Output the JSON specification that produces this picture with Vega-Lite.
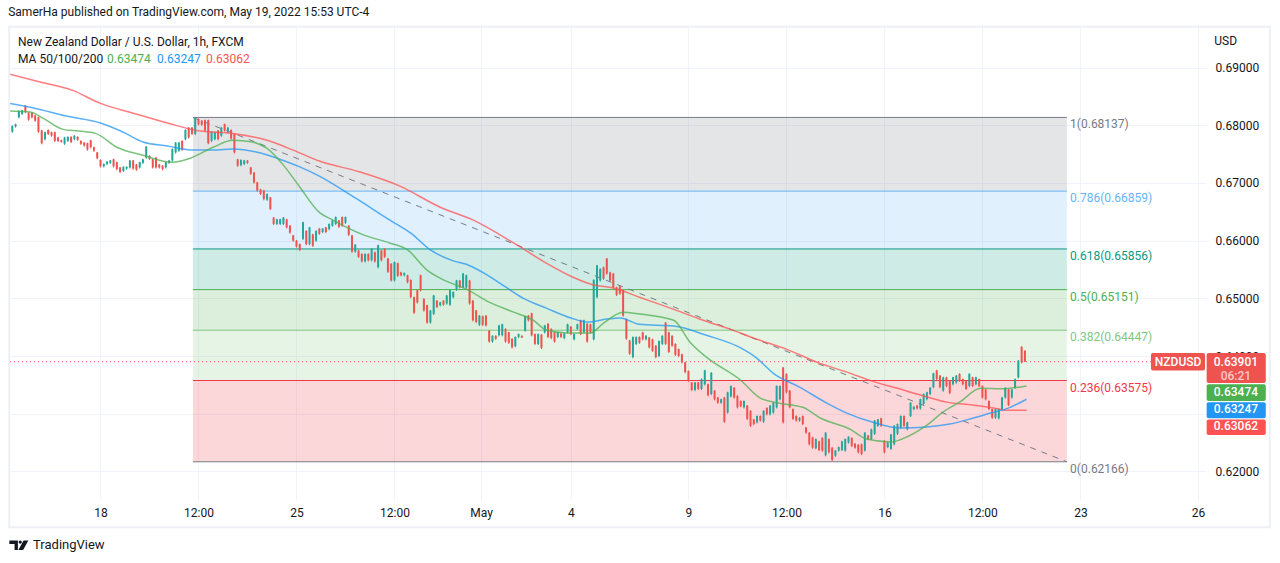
{
"$schema":"https://vega.github.io/schema/vega-lite/v6.json",
"description":"NZDUSD 1h candles with MA 50/100/200, a Fibonacci retracement and a dashed trend line.",
"width":1196,"height":473,
"autosize":{"type":"none"},
"padding":{"left":10,"top":27,"right":74,"bottom":63},
"background":"#ffffff",
"config":{"view":{"stroke":null},"font":"Roboto","text":{"font":"Roboto"},"scale":{"continuousPadding":0}},
"title":{"text":"SamerHa published on TradingView.com, May 19, 2022 15:53 UTC-4","anchor":"start","fontSize":12,"fontWeight":"normal","color":"#131722","offset":7,"font":"Roboto"},
"datasets":{
"fib":[
{"ratio":"1","v":0.68137,"next":0.66859,"label":"1(0.68137)"},
{"ratio":"0.786","v":0.66859,"next":0.65856,"label":"0.786(0.66859)"},
{"ratio":"0.618","v":0.65856,"next":0.65151,"label":"0.618(0.65856)"},
{"ratio":"0.5","v":0.65151,"next":0.64447,"label":"0.5(0.65151)"},
{"ratio":"0.382","v":0.64447,"next":0.63575,"label":"0.382(0.64447)"},
{"ratio":"0.236","v":0.63575,"next":0.62166,"label":"0.236(0.63575)"},
{"ratio":"0","v":0.62166,"next":0.62166,"label":"0(0.62166)"}],
"trend":[{"t":56.6,"v":0.68137},{"t":591.7,"v":0.62166}],
"last":[{"v":0.63901}],
"pane":[{"name":"pane"}],
"logo":[{"name":"TradingView"}],
"ma":[
{"ma":"200","t":-56,"v":0.6889},{"ma":"200","t":-37,"v":0.6875},{"ma":"200","t":-17.5,"v":0.6861},{"ma":"200","t":0,"v":0.6838},{"ma":"200","t":20,"v":0.6821},{"ma":"200","t":41,"v":0.6804},{"ma":"200","t":61,"v":0.679},{"ma":"200","t":81,"v":0.6786},{"ma":"200","t":102,"v":0.6774},{"ma":"200","t":118,"v":0.6757},{"ma":"200","t":134,"v":0.6738},{"ma":"200","t":159,"v":0.6719},{"ma":"200","t":183,"v":0.6695},{"ma":"200","t":208,"v":0.6658},{"ma":"200","t":228,"v":0.6636},{"ma":"200","t":253,"v":0.6596},{"ma":"200","t":273,"v":0.6561},{"ma":"200","t":289,"v":0.6537},{"ma":"200","t":302,"v":0.6523},{"ma":"200","t":314,"v":0.6518},{"ma":"200","t":330,"v":0.6502},{"ma":"200","t":349,"v":0.6483},{"ma":"200","t":369,"v":0.6462},{"ma":"200","t":385,"v":0.6447},{"ma":"200","t":402,"v":0.6429},{"ma":"200","t":420,"v":0.6412},{"ma":"200","t":439,"v":0.6389},{"ma":"200","t":457,"v":0.6372},{"ma":"200","t":473,"v":0.6356},{"ma":"200","t":494,"v":0.6339},{"ma":"200","t":506,"v":0.6329},{"ma":"200","t":518,"v":0.632},{"ma":"200","t":534,"v":0.6315},{"ma":"200","t":547,"v":0.631},{"ma":"200","t":555,"v":0.6306},{"ma":"200","t":567,"v":0.6306},
{"ma":"100","t":-56,"v":0.6838},{"ma":"100","t":-41,"v":0.683},{"ma":"100","t":-21,"v":0.6816},{"ma":"100","t":0,"v":0.6804},{"ma":"100","t":14,"v":0.6788},{"ma":"100","t":26,"v":0.6771},{"ma":"100","t":41,"v":0.6764},{"ma":"100","t":57,"v":0.6757},{"ma":"100","t":69,"v":0.6757},{"ma":"100","t":81,"v":0.6759},{"ma":"100","t":98,"v":0.6752},{"ma":"100","t":108,"v":0.6743},{"ma":"100","t":122,"v":0.6728},{"ma":"100","t":134,"v":0.6712},{"ma":"100","t":156,"v":0.6674},{"ma":"100","t":177,"v":0.6636},{"ma":"100","t":190,"v":0.6613},{"ma":"100","t":202,"v":0.6584},{"ma":"100","t":216,"v":0.6565},{"ma":"100","t":224,"v":0.6559},{"ma":"100","t":234,"v":0.6545},{"ma":"100","t":249,"v":0.6518},{"ma":"100","t":259,"v":0.65},{"ma":"100","t":273,"v":0.6483},{"ma":"100","t":288,"v":0.6466},{"ma":"100","t":298,"v":0.6459},{"ma":"100","t":310,"v":0.6464},{"ma":"100","t":318,"v":0.6466},{"ma":"100","t":330,"v":0.6455},{"ma":"100","t":351,"v":0.6452},{"ma":"100","t":371,"v":0.6436},{"ma":"100","t":392,"v":0.6414},{"ma":"100","t":402,"v":0.6396},{"ma":"100","t":412,"v":0.637},{"ma":"100","t":428,"v":0.6346},{"ma":"100","t":445,"v":0.6318},{"ma":"100","t":457,"v":0.6301},{"ma":"100","t":473,"v":0.6285},{"ma":"100","t":490,"v":0.6275},{"ma":"100","t":506,"v":0.6277},{"ma":"100","t":520,"v":0.6282},{"ma":"100","t":534,"v":0.6292},{"ma":"100","t":545,"v":0.6301},{"ma":"100","t":557,"v":0.6311},{"ma":"100","t":567,"v":0.6325},
{"ma":"50","t":-56,"v":0.6825},{"ma":"50","t":-43,"v":0.6823},{"ma":"50","t":-35,"v":0.6812},{"ma":"50","t":-23,"v":0.6793},{"ma":"50","t":-13,"v":0.679},{"ma":"50","t":-3,"v":0.6786},{"ma":"50","t":10,"v":0.6762},{"ma":"50","t":26,"v":0.6748},{"ma":"50","t":44,"v":0.6736},{"ma":"50","t":55,"v":0.6743},{"ma":"50","t":69,"v":0.6762},{"ma":"50","t":81,"v":0.6774},{"ma":"50","t":93,"v":0.6771},{"ma":"50","t":102,"v":0.676},{"ma":"50","t":112,"v":0.6731},{"ma":"50","t":122,"v":0.6693},{"ma":"50","t":134,"v":0.6649},{"ma":"50","t":142,"v":0.6636},{"ma":"50","t":161,"v":0.661},{"ma":"50","t":177,"v":0.6596},{"ma":"50","t":188,"v":0.6584},{"ma":"50","t":200,"v":0.6549},{"ma":"50","t":210,"v":0.6532},{"ma":"50","t":224,"v":0.6516},{"ma":"50","t":239,"v":0.6492},{"ma":"50","t":253,"v":0.6476},{"ma":"50","t":265,"v":0.6462},{"ma":"50","t":273,"v":0.6445},{"ma":"50","t":286,"v":0.644},{"ma":"50","t":300,"v":0.644},{"ma":"50","t":308,"v":0.6457},{"ma":"50","t":320,"v":0.6476},{"ma":"50","t":330,"v":0.6473},{"ma":"50","t":351,"v":0.6462},{"ma":"50","t":361,"v":0.6424},{"ma":"50","t":371,"v":0.6398},{"ma":"50","t":392,"v":0.6358},{"ma":"50","t":404,"v":0.6327},{"ma":"50","t":416,"v":0.6318},{"ma":"50","t":430,"v":0.6311},{"ma":"50","t":441,"v":0.6292},{"ma":"50","t":459,"v":0.6273},{"ma":"50","t":469,"v":0.6256},{"ma":"50","t":484,"v":0.6251},{"ma":"50","t":494,"v":0.626},{"ma":"50","t":506,"v":0.628},{"ma":"50","t":516,"v":0.6303},{"ma":"50","t":526,"v":0.632},{"ma":"50","t":539,"v":0.6344},{"ma":"50","t":551,"v":0.6343},{"ma":"50","t":557,"v":0.6344},{"ma":"50","t":567,"v":0.6348}],
"notes":[
{"label":"New Zealand Dollar / U.S. Dollar, 1h, FXCM","t":-50.5,"v":0.6944,"kind":"head"},
{"label":"MA 50/100/200","t":-50.5,"v":0.6915,"kind":"head"},
{"label":"0.63474","t":4,"v":0.6915,"kind":"50"},
{"label":"0.63247","t":34.6,"v":0.6915,"kind":"100"},
{"label":"0.63062","t":64.6,"v":0.6915,"kind":"200"},
{"label":"USD","t":682,"v":0.6946,"kind":"head"}],
"tags":[
{"name":"NZDUSD","t0":643.2,"t1":676.3,"top":0.6405,"bottom":0.6375},
{"name":"price","t0":677.3,"t1":713.5,"top":0.6405,"bottom":0.6353},
{"name":"50","t0":677.3,"t1":713.5,"top":0.6351,"bottom":0.6322},
{"name":"100","t0":677.3,"t1":713.5,"top":0.632,"bottom":0.6292},
{"name":"200","t0":677.3,"t1":713.5,"top":0.629,"bottom":0.6263}],
"tagtext":[
{"label":"NZDUSD","t":659.8,"v":0.6389,"kind":"main"},
{"label":"0.63901","t":695.2,"v":0.6389,"kind":"main"},
{"label":"06:21","t":695.2,"v":0.6365,"kind":"count"},
{"label":"0.63474","t":695.2,"v":0.6337,"kind":"main"},
{"label":"0.63247","t":695.2,"v":0.6308,"kind":"main"},
{"label":"0.63062","t":695.2,"v":0.6278,"kind":"main"}],
"candles":[
{"t":-54,"o":0.6789,"h":0.68,"l":0.6787,"c":0.6799},{"t":-52,"o":0.6798,"h":0.6803,"l":0.6796,"c":0.6802},{"t":-50,"o":0.6814,"h":0.6826,"l":0.6812,"c":0.6825},{"t":-48,"o":0.682,"h":0.6827,"l":0.6818,"c":0.6826},{"t":-46,"o":0.6834,"h":0.6835,"l":0.6821,"c":0.6823},{"t":-44,"o":0.6822,"h":0.6823,"l":0.6808,"c":0.681},{"t":-42,"o":0.6822,"h":0.6823,"l":0.6812,"c":0.6814},{"t":-40,"o":0.6817,"h":0.6818,"l":0.6806,"c":0.6808},{"t":-38,"o":0.6814,"h":0.6815,"l":0.6787,"c":0.6789},{"t":-36,"o":0.6791,"h":0.6792,"l":0.6767,"c":0.6769},
{"t":-34,"o":0.6776,"h":0.6789,"l":0.6774,"c":0.6788},{"t":-32,"o":0.6792,"h":0.6793,"l":0.6783,"c":0.6785},{"t":-30,"o":0.6788,"h":0.6789,"l":0.678,"c":0.6782},{"t":-28,"o":0.6788,"h":0.6789,"l":0.6771,"c":0.6773},{"t":-26,"o":0.6779,"h":0.678,"l":0.6771,"c":0.6773},{"t":-24,"o":0.6774,"h":0.6775,"l":0.677,"c":0.6771},{"t":-22,"o":0.6768,"h":0.678,"l":0.6766,"c":0.6779},{"t":-20,"o":0.6773,"h":0.6781,"l":0.6771,"c":0.678},{"t":-18,"o":0.678,"h":0.6781,"l":0.6769,"c":0.6771},{"t":-16,"o":0.6776,"h":0.6783,"l":0.6774,"c":0.6782},
{"t":-14,"o":0.678,"h":0.6781,"l":0.6773,"c":0.6775},{"t":-12,"o":0.6773,"h":0.6774,"l":0.6766,"c":0.6768},{"t":-10,"o":0.677,"h":0.6771,"l":0.6763,"c":0.6765},{"t":-8,"o":0.6769,"h":0.677,"l":0.6756,"c":0.6758},{"t":-6,"o":0.6774,"h":0.6775,"l":0.676,"c":0.6762},{"t":-4,"o":0.6762,"h":0.6763,"l":0.6754,"c":0.6756},{"t":-2,"o":0.6753,"h":0.6754,"l":0.6741,"c":0.6743},{"t":0,"o":0.674,"h":0.6741,"l":0.6727,"c":0.6729},{"t":2,"o":0.6729,"h":0.6734,"l":0.6727,"c":0.6733},{"t":4,"o":0.6733,"h":0.6738,"l":0.6731,"c":0.6737},
{"t":6,"o":0.6735,"h":0.674,"l":0.6733,"c":0.6739},{"t":8,"o":0.6741,"h":0.6742,"l":0.6727,"c":0.6729},{"t":10,"o":0.6736,"h":0.6737,"l":0.6722,"c":0.6724},{"t":12,"o":0.6727,"h":0.6728,"l":0.6717,"c":0.6719},{"t":14,"o":0.6721,"h":0.6729,"l":0.6719,"c":0.6728},{"t":16,"o":0.6725,"h":0.6729,"l":0.6723,"c":0.6728},{"t":18,"o":0.6727,"h":0.674,"l":0.6725,"c":0.6739},{"t":20,"o":0.6739,"h":0.674,"l":0.6723,"c":0.6725},{"t":22,"o":0.6732,"h":0.6733,"l":0.6721,"c":0.6723},{"t":24,"o":0.6727,"h":0.6737,"l":0.6725,"c":0.6736},
{"t":26,"o":0.6735,"h":0.6742,"l":0.6733,"c":0.6741},{"t":28,"o":0.6744,"h":0.6764,"l":0.6742,"c":0.6763},{"t":30,"o":0.6747,"h":0.6748,"l":0.674,"c":0.6742},{"t":32,"o":0.6741,"h":0.6742,"l":0.6725,"c":0.6727},{"t":34,"o":0.6744,"h":0.6745,"l":0.6725,"c":0.6727},{"t":36,"o":0.6732,"h":0.6733,"l":0.6725,"c":0.6727},{"t":38,"o":0.673,"h":0.6731,"l":0.6722,"c":0.6724},{"t":40,"o":0.6727,"h":0.6737,"l":0.6725,"c":0.6736},{"t":42,"o":0.6735,"h":0.674,"l":0.6733,"c":0.6739},{"t":44,"o":0.6739,"h":0.676,"l":0.6737,"c":0.6759},
{"t":46,"o":0.6753,"h":0.6771,"l":0.6751,"c":0.677},{"t":48,"o":0.6756,"h":0.6771,"l":0.6754,"c":0.677},{"t":50,"o":0.6773,"h":0.6774,"l":0.6756,"c":0.6758},{"t":52,"o":0.6776,"h":0.6793,"l":0.6774,"c":0.6792},{"t":54,"o":0.6796,"h":0.6797,"l":0.6777,"c":0.6779},{"t":56,"o":0.6796,"h":0.6797,"l":0.6783,"c":0.6785},{"t":58,"o":0.6785,"h":0.6813,"l":0.6783,"c":0.6812},{"t":60,"o":0.6811,"h":0.6812,"l":0.68,"c":0.6802},{"t":62,"o":0.6808,"h":0.6809,"l":0.6799,"c":0.6801},{"t":64,"o":0.6809,"h":0.681,"l":0.6789,"c":0.6791},
{"t":66,"o":0.6809,"h":0.681,"l":0.6767,"c":0.6769},{"t":68,"o":0.6773,"h":0.679,"l":0.6771,"c":0.6789},{"t":70,"o":0.6776,"h":0.6789,"l":0.6774,"c":0.6788},{"t":72,"o":0.6791,"h":0.6792,"l":0.6774,"c":0.6776},{"t":74,"o":0.6782,"h":0.6797,"l":0.678,"c":0.6796},{"t":76,"o":0.6802,"h":0.6803,"l":0.6789,"c":0.6791},{"t":78,"o":0.6788,"h":0.6797,"l":0.6786,"c":0.6796},{"t":80,"o":0.6792,"h":0.6793,"l":0.6775,"c":0.6777},{"t":82,"o":0.6785,"h":0.6786,"l":0.6751,"c":0.6753},{"t":84,"o":0.6741,"h":0.6742,"l":0.6728,"c":0.673},
{"t":86,"o":0.6731,"h":0.6741,"l":0.6729,"c":0.674},{"t":88,"o":0.6733,"h":0.674,"l":0.6731,"c":0.6739},{"t":90,"o":0.6739,"h":0.674,"l":0.6733,"c":0.6735},{"t":92,"o":0.6727,"h":0.6728,"l":0.6714,"c":0.6716},{"t":94,"o":0.6718,"h":0.6719,"l":0.6699,"c":0.6701},{"t":96,"o":0.6701,"h":0.6702,"l":0.6685,"c":0.6687},{"t":98,"o":0.6689,"h":0.669,"l":0.6679,"c":0.6681},{"t":100,"o":0.6687,"h":0.6688,"l":0.667,"c":0.6672},{"t":102,"o":0.6671,"h":0.6682,"l":0.6669,"c":0.6681},{"t":104,"o":0.6675,"h":0.6676,"l":0.6653,"c":0.6655},
{"t":106,"o":0.664,"h":0.6641,"l":0.6627,"c":0.6629},{"t":108,"o":0.6629,"h":0.6638,"l":0.6627,"c":0.6637},{"t":110,"o":0.6629,"h":0.6638,"l":0.6627,"c":0.6637},{"t":112,"o":0.6629,"h":0.6641,"l":0.6627,"c":0.664},{"t":114,"o":0.6637,"h":0.6638,"l":0.6621,"c":0.6623},{"t":116,"o":0.6626,"h":0.6627,"l":0.6612,"c":0.6614},{"t":118,"o":0.6609,"h":0.661,"l":0.6598,"c":0.66},{"t":120,"o":0.66,"h":0.6601,"l":0.6588,"c":0.659},{"t":122,"o":0.6594,"h":0.6595,"l":0.6582,"c":0.6584},{"t":124,"o":0.6603,"h":0.6633,"l":0.6601,"c":0.6632},
{"t":126,"o":0.6617,"h":0.6618,"l":0.6592,"c":0.6594},{"t":128,"o":0.6594,"h":0.6624,"l":0.6592,"c":0.6623},{"t":130,"o":0.6611,"h":0.6612,"l":0.6589,"c":0.6591},{"t":132,"o":0.66,"h":0.6618,"l":0.6598,"c":0.6617},{"t":134,"o":0.6621,"h":0.6622,"l":0.661,"c":0.6612},{"t":136,"o":0.6615,"h":0.6622,"l":0.6613,"c":0.6621},{"t":138,"o":0.6623,"h":0.6624,"l":0.6613,"c":0.6615},{"t":140,"o":0.662,"h":0.663,"l":0.6618,"c":0.6629},{"t":142,"o":0.6626,"h":0.6636,"l":0.6624,"c":0.6635},{"t":144,"o":0.6629,"h":0.6642,"l":0.6627,"c":0.6641},
{"t":146,"o":0.6635,"h":0.6636,"l":0.6622,"c":0.6624},{"t":148,"o":0.6641,"h":0.6642,"l":0.6624,"c":0.6626},{"t":150,"o":0.6631,"h":0.6642,"l":0.6629,"c":0.6641},{"t":152,"o":0.6626,"h":0.6627,"l":0.6608,"c":0.661},{"t":154,"o":0.6609,"h":0.661,"l":0.6579,"c":0.6581},{"t":156,"o":0.6581,"h":0.6594,"l":0.6579,"c":0.6593},{"t":158,"o":0.6583,"h":0.6584,"l":0.657,"c":0.6572},{"t":160,"o":0.6577,"h":0.6578,"l":0.6562,"c":0.6564},{"t":162,"o":0.6564,"h":0.6578,"l":0.6562,"c":0.6577},{"t":164,"o":0.6577,"h":0.6578,"l":0.6564,"c":0.6566},
{"t":166,"o":0.6566,"h":0.6587,"l":0.6564,"c":0.6586},{"t":168,"o":0.658,"h":0.6581,"l":0.6562,"c":0.6564},{"t":170,"o":0.6554,"h":0.6593,"l":0.6552,"c":0.6592},{"t":172,"o":0.6583,"h":0.6584,"l":0.6564,"c":0.6566},{"t":174,"o":0.6586,"h":0.6587,"l":0.657,"c":0.6572},{"t":176,"o":0.6569,"h":0.657,"l":0.6544,"c":0.6546},{"t":178,"o":0.656,"h":0.6561,"l":0.6529,"c":0.6531},{"t":180,"o":0.6531,"h":0.6564,"l":0.6529,"c":0.6563},{"t":182,"o":0.6561,"h":0.6562,"l":0.6537,"c":0.6539},{"t":184,"o":0.6545,"h":0.6546,"l":0.6538,"c":0.654},
{"t":186,"o":0.654,"h":0.6545,"l":0.6538,"c":0.6544},{"t":188,"o":0.654,"h":0.6541,"l":0.6526,"c":0.6528},{"t":190,"o":0.6532,"h":0.6533,"l":0.65,"c":0.6502},{"t":192,"o":0.6502,"h":0.6503,"l":0.6473,"c":0.6475},{"t":194,"o":0.6514,"h":0.6515,"l":0.6491,"c":0.6493},{"t":196,"o":0.654,"h":0.6541,"l":0.6512,"c":0.6514},{"t":198,"o":0.6499,"h":0.65,"l":0.6477,"c":0.6479},{"t":200,"o":0.6488,"h":0.6489,"l":0.6456,"c":0.6458},{"t":202,"o":0.6458,"h":0.648,"l":0.6456,"c":0.6479},{"t":204,"o":0.6473,"h":0.6506,"l":0.6471,"c":0.6505},
{"t":206,"o":0.6496,"h":0.6497,"l":0.6483,"c":0.6485},{"t":208,"o":0.6488,"h":0.6494,"l":0.6486,"c":0.6493},{"t":210,"o":0.6496,"h":0.6497,"l":0.6487,"c":0.6489},{"t":212,"o":0.6491,"h":0.6506,"l":0.6489,"c":0.6505},{"t":214,"o":0.6489,"h":0.6515,"l":0.6487,"c":0.6514},{"t":216,"o":0.6502,"h":0.6512,"l":0.65,"c":0.6511},{"t":218,"o":0.6515,"h":0.6532,"l":0.6513,"c":0.6531},{"t":220,"o":0.6531,"h":0.6532,"l":0.6517,"c":0.6519},{"t":222,"o":0.6519,"h":0.6544,"l":0.6517,"c":0.6543},{"t":224,"o":0.6519,"h":0.6541,"l":0.6517,"c":0.654},
{"t":226,"o":0.6531,"h":0.6532,"l":0.6489,"c":0.6491},{"t":228,"o":0.6496,"h":0.6497,"l":0.646,"c":0.6462},{"t":230,"o":0.6479,"h":0.648,"l":0.6457,"c":0.6459},{"t":232,"o":0.6454,"h":0.6471,"l":0.6452,"c":0.647},{"t":234,"o":0.6469,"h":0.647,"l":0.6452,"c":0.6454},{"t":236,"o":0.647,"h":0.6471,"l":0.6451,"c":0.6453},{"t":238,"o":0.6444,"h":0.6445,"l":0.6423,"c":0.6425},{"t":240,"o":0.6425,"h":0.6436,"l":0.6423,"c":0.6435},{"t":242,"o":0.6435,"h":0.6436,"l":0.6428,"c":0.643},{"t":244,"o":0.6436,"h":0.6454,"l":0.6434,"c":0.6453},
{"t":246,"o":0.6436,"h":0.6456,"l":0.6434,"c":0.6455},{"t":248,"o":0.6447,"h":0.6448,"l":0.6423,"c":0.6425},{"t":250,"o":0.6441,"h":0.6442,"l":0.6421,"c":0.6423},{"t":252,"o":0.643,"h":0.6431,"l":0.6413,"c":0.6415},{"t":254,"o":0.6417,"h":0.6434,"l":0.6415,"c":0.6433},{"t":256,"o":0.6433,"h":0.6439,"l":0.6431,"c":0.6438},{"t":258,"o":0.6435,"h":0.6436,"l":0.6431,"c":0.6432},{"t":260,"o":0.6444,"h":0.647,"l":0.6442,"c":0.6469},{"t":262,"o":0.647,"h":0.6471,"l":0.646,"c":0.6462},{"t":264,"o":0.6474,"h":0.6475,"l":0.6434,"c":0.6436},
{"t":266,"o":0.6438,"h":0.6439,"l":0.6419,"c":0.6421},{"t":268,"o":0.6421,"h":0.6439,"l":0.6419,"c":0.6438},{"t":270,"o":0.6437,"h":0.6438,"l":0.6412,"c":0.6414},{"t":272,"o":0.6441,"h":0.6454,"l":0.6439,"c":0.6453},{"t":274,"o":0.6456,"h":0.6457,"l":0.6431,"c":0.6433},{"t":276,"o":0.6447,"h":0.6448,"l":0.6429,"c":0.6431},{"t":278,"o":0.6441,"h":0.6442,"l":0.6423,"c":0.6425},{"t":280,"o":0.6433,"h":0.6442,"l":0.6431,"c":0.6441},{"t":282,"o":0.6439,"h":0.644,"l":0.6431,"c":0.6433},{"t":284,"o":0.6431,"h":0.644,"l":0.6429,"c":0.6439},
{"t":286,"o":0.6441,"h":0.6456,"l":0.6439,"c":0.6455},{"t":288,"o":0.6451,"h":0.6452,"l":0.6436,"c":0.6438},{"t":290,"o":0.6429,"h":0.6439,"l":0.6427,"c":0.6438},{"t":292,"o":0.6447,"h":0.6456,"l":0.6445,"c":0.6455},{"t":294,"o":0.6462,"h":0.6463,"l":0.6436,"c":0.6438},{"t":296,"o":0.6441,"h":0.6463,"l":0.6439,"c":0.6462},{"t":298,"o":0.6456,"h":0.6457,"l":0.6423,"c":0.6425},{"t":300,"o":0.6455,"h":0.6456,"l":0.6439,"c":0.6441},{"t":302,"o":0.6429,"h":0.6533,"l":0.6427,"c":0.6532},{"t":304,"o":0.6502,"h":0.6558,"l":0.65,"c":0.6557},
{"t":306,"o":0.6531,"h":0.6552,"l":0.6529,"c":0.6551},{"t":308,"o":0.6554,"h":0.6555,"l":0.6532,"c":0.6534},{"t":310,"o":0.6569,"h":0.657,"l":0.6541,"c":0.6543},{"t":312,"o":0.6545,"h":0.6546,"l":0.6529,"c":0.6531},{"t":314,"o":0.6543,"h":0.6544,"l":0.6517,"c":0.6519},{"t":316,"o":0.6519,"h":0.652,"l":0.6504,"c":0.6506},{"t":318,"o":0.6521,"h":0.6522,"l":0.6506,"c":0.6508},{"t":320,"o":0.6514,"h":0.6515,"l":0.6468,"c":0.647},{"t":322,"o":0.6464,"h":0.6465,"l":0.6428,"c":0.643},{"t":324,"o":0.6427,"h":0.6428,"l":0.6402,"c":0.6404},
{"t":326,"o":0.6398,"h":0.6434,"l":0.6396,"c":0.6433},{"t":328,"o":0.6421,"h":0.6434,"l":0.6419,"c":0.6433},{"t":330,"o":0.6433,"h":0.6434,"l":0.6421,"c":0.6423},{"t":332,"o":0.6441,"h":0.6442,"l":0.6427,"c":0.6429},{"t":334,"o":0.6429,"h":0.6436,"l":0.6427,"c":0.6435},{"t":336,"o":0.6432,"h":0.6433,"l":0.6413,"c":0.6415},{"t":338,"o":0.6429,"h":0.643,"l":0.6407,"c":0.6409},{"t":340,"o":0.6418,"h":0.6419,"l":0.6396,"c":0.6398},{"t":342,"o":0.64,"h":0.6427,"l":0.6398,"c":0.6426},{"t":344,"o":0.6421,"h":0.6436,"l":0.6419,"c":0.6435},
{"t":346,"o":0.6458,"h":0.6459,"l":0.6419,"c":0.6421},{"t":348,"o":0.6441,"h":0.6442,"l":0.6405,"c":0.6407},{"t":350,"o":0.6435,"h":0.6436,"l":0.6416,"c":0.6418},{"t":352,"o":0.6421,"h":0.6422,"l":0.64,"c":0.6402},{"t":354,"o":0.6412,"h":0.6413,"l":0.6398,"c":0.64},{"t":356,"o":0.6403,"h":0.6404,"l":0.6387,"c":0.6389},{"t":358,"o":0.6389,"h":0.639,"l":0.637,"c":0.6372},{"t":360,"o":0.6374,"h":0.6375,"l":0.6355,"c":0.6357},{"t":362,"o":0.6354,"h":0.6355,"l":0.6339,"c":0.6341},{"t":364,"o":0.6341,"h":0.6355,"l":0.6339,"c":0.6354},
{"t":366,"o":0.6354,"h":0.6355,"l":0.6341,"c":0.6343},{"t":368,"o":0.6343,"h":0.6361,"l":0.6341,"c":0.636},{"t":370,"o":0.6351,"h":0.6376,"l":0.6349,"c":0.6375},{"t":372,"o":0.6351,"h":0.6352,"l":0.633,"c":0.6332},{"t":374,"o":0.6334,"h":0.6372,"l":0.6332,"c":0.6371},{"t":376,"o":0.634,"h":0.6341,"l":0.6323,"c":0.6325},{"t":378,"o":0.6328,"h":0.6329,"l":0.6317,"c":0.6319},{"t":380,"o":0.6319,"h":0.6326,"l":0.6317,"c":0.6325},{"t":382,"o":0.6328,"h":0.6329,"l":0.6284,"c":0.6286},{"t":384,"o":0.6302,"h":0.6338,"l":0.63,"c":0.6337},
{"t":386,"o":0.633,"h":0.6349,"l":0.6328,"c":0.6348},{"t":388,"o":0.6345,"h":0.6346,"l":0.6326,"c":0.6328},{"t":390,"o":0.6331,"h":0.6332,"l":0.6309,"c":0.6311},{"t":392,"o":0.6322,"h":0.6323,"l":0.6311,"c":0.6313},{"t":394,"o":0.6311,"h":0.6323,"l":0.6309,"c":0.6322},{"t":396,"o":0.6314,"h":0.6315,"l":0.6289,"c":0.6291},{"t":398,"o":0.6305,"h":0.6306,"l":0.6277,"c":0.6279},{"t":400,"o":0.629,"h":0.6291,"l":0.628,"c":0.6282},{"t":402,"o":0.6285,"h":0.6297,"l":0.6283,"c":0.6296},{"t":404,"o":0.6296,"h":0.6297,"l":0.6286,"c":0.6288},
{"t":406,"o":0.6286,"h":0.6306,"l":0.6284,"c":0.6305},{"t":408,"o":0.631,"h":0.6311,"l":0.6297,"c":0.6299},{"t":410,"o":0.6299,"h":0.6315,"l":0.6297,"c":0.6314},{"t":412,"o":0.6302,"h":0.632,"l":0.63,"c":0.6319},{"t":414,"o":0.6311,"h":0.6349,"l":0.6309,"c":0.6348},{"t":416,"o":0.6325,"h":0.6349,"l":0.6323,"c":0.6348},{"t":418,"o":0.638,"h":0.6381,"l":0.6283,"c":0.6285},{"t":420,"o":0.6369,"h":0.637,"l":0.6335,"c":0.6337},{"t":422,"o":0.634,"h":0.6341,"l":0.6309,"c":0.6311},{"t":424,"o":0.6308,"h":0.6309,"l":0.6289,"c":0.6291},
{"t":426,"o":0.6296,"h":0.6297,"l":0.6286,"c":0.6288},{"t":428,"o":0.6288,"h":0.6294,"l":0.6286,"c":0.6293},{"t":430,"o":0.6296,"h":0.6297,"l":0.628,"c":0.6282},{"t":432,"o":0.6276,"h":0.6277,"l":0.6265,"c":0.6267},{"t":434,"o":0.6267,"h":0.6268,"l":0.6245,"c":0.6247},{"t":436,"o":0.6259,"h":0.626,"l":0.6239,"c":0.6241},{"t":438,"o":0.624,"h":0.6257,"l":0.6238,"c":0.6256},{"t":440,"o":0.6252,"h":0.6253,"l":0.6235,"c":0.6237},{"t":442,"o":0.6258,"h":0.6259,"l":0.6234,"c":0.6236},{"t":444,"o":0.6228,"h":0.6268,"l":0.6226,"c":0.6267},
{"t":446,"o":0.6256,"h":0.6257,"l":0.6231,"c":0.6233},{"t":448,"o":0.6241,"h":0.6242,"l":0.6218,"c":0.622},{"t":450,"o":0.6227,"h":0.6237,"l":0.6225,"c":0.6236},{"t":452,"o":0.6236,"h":0.6243,"l":0.6234,"c":0.6242},{"t":454,"o":0.6237,"h":0.6253,"l":0.6235,"c":0.6252},{"t":456,"o":0.6236,"h":0.6257,"l":0.6234,"c":0.6256},{"t":458,"o":0.625,"h":0.6261,"l":0.6248,"c":0.626},{"t":460,"o":0.6258,"h":0.6259,"l":0.6242,"c":0.6244},{"t":462,"o":0.6248,"h":0.6249,"l":0.6239,"c":0.6241},{"t":464,"o":0.6246,"h":0.6247,"l":0.6231,"c":0.6233},
{"t":466,"o":0.6247,"h":0.6248,"l":0.6228,"c":0.623},{"t":468,"o":0.6236,"h":0.6268,"l":0.6234,"c":0.6267},{"t":470,"o":0.6262,"h":0.6263,"l":0.6254,"c":0.6256},{"t":472,"o":0.6256,"h":0.6274,"l":0.6254,"c":0.6273},{"t":474,"o":0.6265,"h":0.6289,"l":0.6263,"c":0.6288},{"t":476,"o":0.6279,"h":0.6291,"l":0.6277,"c":0.629},{"t":478,"o":0.6292,"h":0.6293,"l":0.6277,"c":0.6279},{"t":480,"o":0.6253,"h":0.6254,"l":0.6231,"c":0.6233},{"t":482,"o":0.6242,"h":0.6251,"l":0.624,"c":0.625},{"t":484,"o":0.6239,"h":0.6265,"l":0.6237,"c":0.6264},
{"t":486,"o":0.6247,"h":0.628,"l":0.6245,"c":0.6279},{"t":488,"o":0.6265,"h":0.6283,"l":0.6263,"c":0.6282},{"t":490,"o":0.6276,"h":0.6297,"l":0.6274,"c":0.6296},{"t":492,"o":0.6296,"h":0.6297,"l":0.6277,"c":0.6279},{"t":494,"o":0.6273,"h":0.6286,"l":0.6271,"c":0.6285},{"t":496,"o":0.6296,"h":0.632,"l":0.6294,"c":0.6319},{"t":498,"o":0.6308,"h":0.6313,"l":0.6306,"c":0.6312},{"t":500,"o":0.6314,"h":0.6315,"l":0.6307,"c":0.6309},{"t":502,"o":0.6309,"h":0.6326,"l":0.6307,"c":0.6325},{"t":504,"o":0.6317,"h":0.6335,"l":0.6315,"c":0.6334},
{"t":506,"o":0.6325,"h":0.6338,"l":0.6323,"c":0.6337},{"t":508,"o":0.6334,"h":0.6346,"l":0.6332,"c":0.6345},{"t":510,"o":0.6346,"h":0.6371,"l":0.6344,"c":0.637},{"t":512,"o":0.6375,"h":0.6376,"l":0.6358,"c":0.636},{"t":514,"o":0.6366,"h":0.6367,"l":0.6344,"c":0.6346},{"t":516,"o":0.634,"h":0.6364,"l":0.6338,"c":0.6363},{"t":518,"o":0.6363,"h":0.6364,"l":0.6346,"c":0.6348},{"t":520,"o":0.6357,"h":0.6358,"l":0.6334,"c":0.6336},{"t":522,"o":0.6351,"h":0.6364,"l":0.6349,"c":0.6363},{"t":524,"o":0.6354,"h":0.6367,"l":0.6352,"c":0.6366},
{"t":526,"o":0.6369,"h":0.637,"l":0.6355,"c":0.6357},{"t":528,"o":0.636,"h":0.6361,"l":0.6349,"c":0.6351},{"t":530,"o":0.6357,"h":0.6358,"l":0.6341,"c":0.6343},{"t":532,"o":0.6348,"h":0.637,"l":0.6346,"c":0.6369},{"t":534,"o":0.6363,"h":0.6364,"l":0.6346,"c":0.6348},{"t":536,"o":0.6351,"h":0.6364,"l":0.6349,"c":0.6363},{"t":538,"o":0.636,"h":0.6361,"l":0.6346,"c":0.6348},{"t":540,"o":0.6348,"h":0.6349,"l":0.6326,"c":0.6328},{"t":542,"o":0.6342,"h":0.6343,"l":0.6323,"c":0.6325},{"t":544,"o":0.6322,"h":0.6323,"l":0.6306,"c":0.6308},
{"t":546,"o":0.6308,"h":0.6309,"l":0.6291,"c":0.6293},{"t":548,"o":0.6293,"h":0.6309,"l":0.6291,"c":0.6308},{"t":550,"o":0.6292,"h":0.6309,"l":0.629,"c":0.6308},{"t":552,"o":0.6308,"h":0.6329,"l":0.6306,"c":0.6328},{"t":554,"o":0.6328,"h":0.6346,"l":0.6326,"c":0.6345},{"t":556,"o":0.6342,"h":0.6343,"l":0.6313,"c":0.6315},{"t":558,"o":0.6328,"h":0.6343,"l":0.6326,"c":0.6342},{"t":560,"o":0.6345,"h":0.6361,"l":0.6343,"c":0.636},{"t":562,"o":0.6363,"h":0.6393,"l":0.6361,"c":0.6392},{"t":564,"o":0.6416,"h":0.6417,"l":0.6387,"c":0.6389},
{"t":566,"o":0.6409,"h":0.641,"l":0.639,"c":0.639}]
},
"layer":[
{"data":{"name":"fib"},"mark":{"type":"rect"},
"encoding":{
"x":{"datum":56.6,"type":"quantitative","title":null,"scale":{"domain":[-55.41,676.9],"nice":false,"zero":false,"padding":0},
"axis":{"values":[0,60,120,180,233,288,360,420,480,540,600,672],"labelExpr":"{'0':'18','60':'12:00','120':'25','180':'12:00','233':'May','288':'4','360':'9','420':'12:00','480':'16','540':'12:00','600':'23','672':'26'}[datum.value]","domain":false,"ticks":false,"grid":true,"gridColor":"#f0f3fa","gridWidth":1,"labelColor":"#131722","labelFontSize":12,"labelPadding":7,"labelFont":"Roboto","title":null}},
"x2":{"datum":591.7},
"y":{"field":"v","type":"quantitative","title":null,"scale":{"domain":[0.61503,0.69705],"nice":false,"zero":false},
"axis":{"orient":"right","values":[0.62,0.63,0.64,0.65,0.66,0.67,0.68,0.69],"format":".5f","domain":false,"ticks":false,"grid":true,"gridColor":"#f0f3fa","gridWidth":1,"labelColor":"#131722","labelFontSize":12,"labelPadding":9,"labelFont":"Roboto","title":null}},
"y2":{"field":"next"},
"color":{"field":"ratio","type":"nominal","legend":null,"scale":{"domain":["1","0.786","0.618","0.5","0.382","0.236","0"],"range":["#787b86","#64b5f6","#089981","#4caf50","#81c784","#f23645","#787b86"]}},
"opacity":{"value":0.2}}},
{"data":{"name":"fib"},"mark":{"type":"rule","strokeWidth":1},
"encoding":{
"x":{"datum":56.6,"type":"quantitative","title":null},
"x2":{"datum":591.7},
"y":{"field":"v","type":"quantitative","title":null},
"color":{"field":"ratio","type":"nominal","legend":null,"scale":{"domain":["1","0.786","0.618","0.5","0.382","0.236","0"],"range":["#787b86","#64b5f6","#089981","#4caf50","#81c784","#f23645","#787b86"]}}}},
{"data":{"name":"fib"},"mark":{"type":"text","align":"left","dy":7,"fontSize":12,"font":"Roboto"},
"encoding":{
"x":{"datum":593.7,"type":"quantitative","title":null},
"y":{"field":"v","type":"quantitative","title":null},
"text":{"field":"label"},
"color":{"field":"ratio","type":"nominal","legend":null,"scale":{"domain":["1","0.786","0.618","0.5","0.382","0.236","0"],"range":["#787b86","#64b5f6","#089981","#4caf50","#81c784","#f23645","#787b86"]}}}},
{"data":{"name":"trend"},"mark":{"type":"line","stroke":"#787b86","strokeWidth":1,"strokeDash":[6,6]},
"encoding":{"x":{"field":"t","type":"quantitative","title":null},"y":{"field":"v","type":"quantitative","title":null}}},
{"data":{"name":"last"},"mark":{"type":"rule","stroke":"#ef5350","strokeWidth":1,"strokeDash":[1,3]},
"encoding":{"x":{"datum":-55.41,"type":"quantitative","title":null},"x2":{"datum":643.2},"y":{"field":"v","type":"quantitative","title":null}}},
{"data":{"name":"candles"},"mark":{"type":"rule","strokeWidth":1,"clip":true},
"encoding":{"x":{"field":"t","type":"quantitative","title":null},"y":{"field":"l","type":"quantitative","title":null},"y2":{"field":"h"},
"color":{"condition":{"test":"datum.c>=datum.o","value":"#26a69a"},"value":"#ef5350"}}},
{"data":{"name":"candles"},"mark":{"type":"bar","orient":"vertical","width":2,"clip":true},
"encoding":{"x":{"field":"t","type":"quantitative","title":null},"y":{"field":"o","type":"quantitative","title":null},"y2":{"field":"c"},
"color":{"condition":{"test":"datum.c>=datum.o","value":"#26a69a"},"value":"#ef5350"}}},
{"data":{"name":"ma"},"mark":{"type":"line","strokeWidth":1.5,"opacity":0.75,"interpolate":"monotone","clip":true},
"encoding":{"x":{"field":"t","type":"quantitative","title":null},"y":{"field":"v","type":"quantitative","title":null},
"color":{"field":"ma","type":"nominal","legend":null,"scale":{"domain":["50","100","200"],"range":["#4caf50","#2196f3","#ff5252"]}}}},
{"data":{"name":"notes"},"mark":{"type":"text","align":"left","fontSize":12,"font":"Roboto"},
"encoding":{"x":{"field":"t","type":"quantitative","title":null},"y":{"field":"v","type":"quantitative","title":null},"text":{"field":"label"},
"color":{"field":"kind","type":"nominal","legend":null,"scale":{"domain":["head","50","100","200"],"range":["#131722","#4caf50","#2196f3","#ff5252"]}}}},
{"data":{"name":"tags"},"mark":{"type":"rect","cornerRadius":2},
"encoding":{"x":{"field":"t0","type":"quantitative","title":null},"x2":{"field":"t1"},"y":{"field":"top","type":"quantitative","title":null},"y2":{"field":"bottom"},
"color":{"field":"name","type":"nominal","legend":null,"scale":{"domain":["NZDUSD","price","50","100","200"],"range":["#ef5350","#ef5350","#4caf50","#2196f3","#ff5252"]}}}},
{"data":{"name":"tagtext"},"mark":{"type":"text","align":"center","fontSize":12,"font":"Roboto","fontWeight":500},
"encoding":{"x":{"field":"t","type":"quantitative","title":null},"y":{"field":"v","type":"quantitative","title":null},"text":{"field":"label"},
"color":{"field":"kind","type":"nominal","legend":null,"scale":{"domain":["main","count"],"range":["#ffffff","#f9c9c8"]}}}},
{"data":{"name":"pane"},"mark":{"type":"rect","fill":null,"stroke":"#eef0f6","strokeWidth":2},
"encoding":{"x":{"datum":-55.9,"type":"quantitative","title":null},"x2":{"datum":716},"y":{"datum":0.6971,"type":"quantitative","title":null},"y2":{"datum":0.6103}}},
{"data":{"name":"logo"},"mark":{"type":"point","filled":true,"fill":"#131722","stroke":null,"opacity":1,"size":361,"shape":"M-1 -.5H-.1V.5H-.45V-.12H-1ZM.32 -.32A.17 .17 0 1 1 -.02 -.32A.17 .17 0 1 1 .32 -.32ZM.5 -.5H1L.45 .5H-.05Z"},
"encoding":{"x":{"datum":-50,"type":"quantitative","title":null},"y":{"datum":0.6072,"type":"quantitative","title":null}}},
{"data":{"name":"logo"},"mark":{"type":"text","align":"left","fontSize":13,"font":"Roboto","color":"#131722"},
"encoding":{"x":{"datum":-41.3,"type":"quantitative","title":null},"y":{"datum":0.6072,"type":"quantitative","title":null},"text":{"field":"name"}}}
],
"resolve":{"scale":{"color":"independent"}}
}
